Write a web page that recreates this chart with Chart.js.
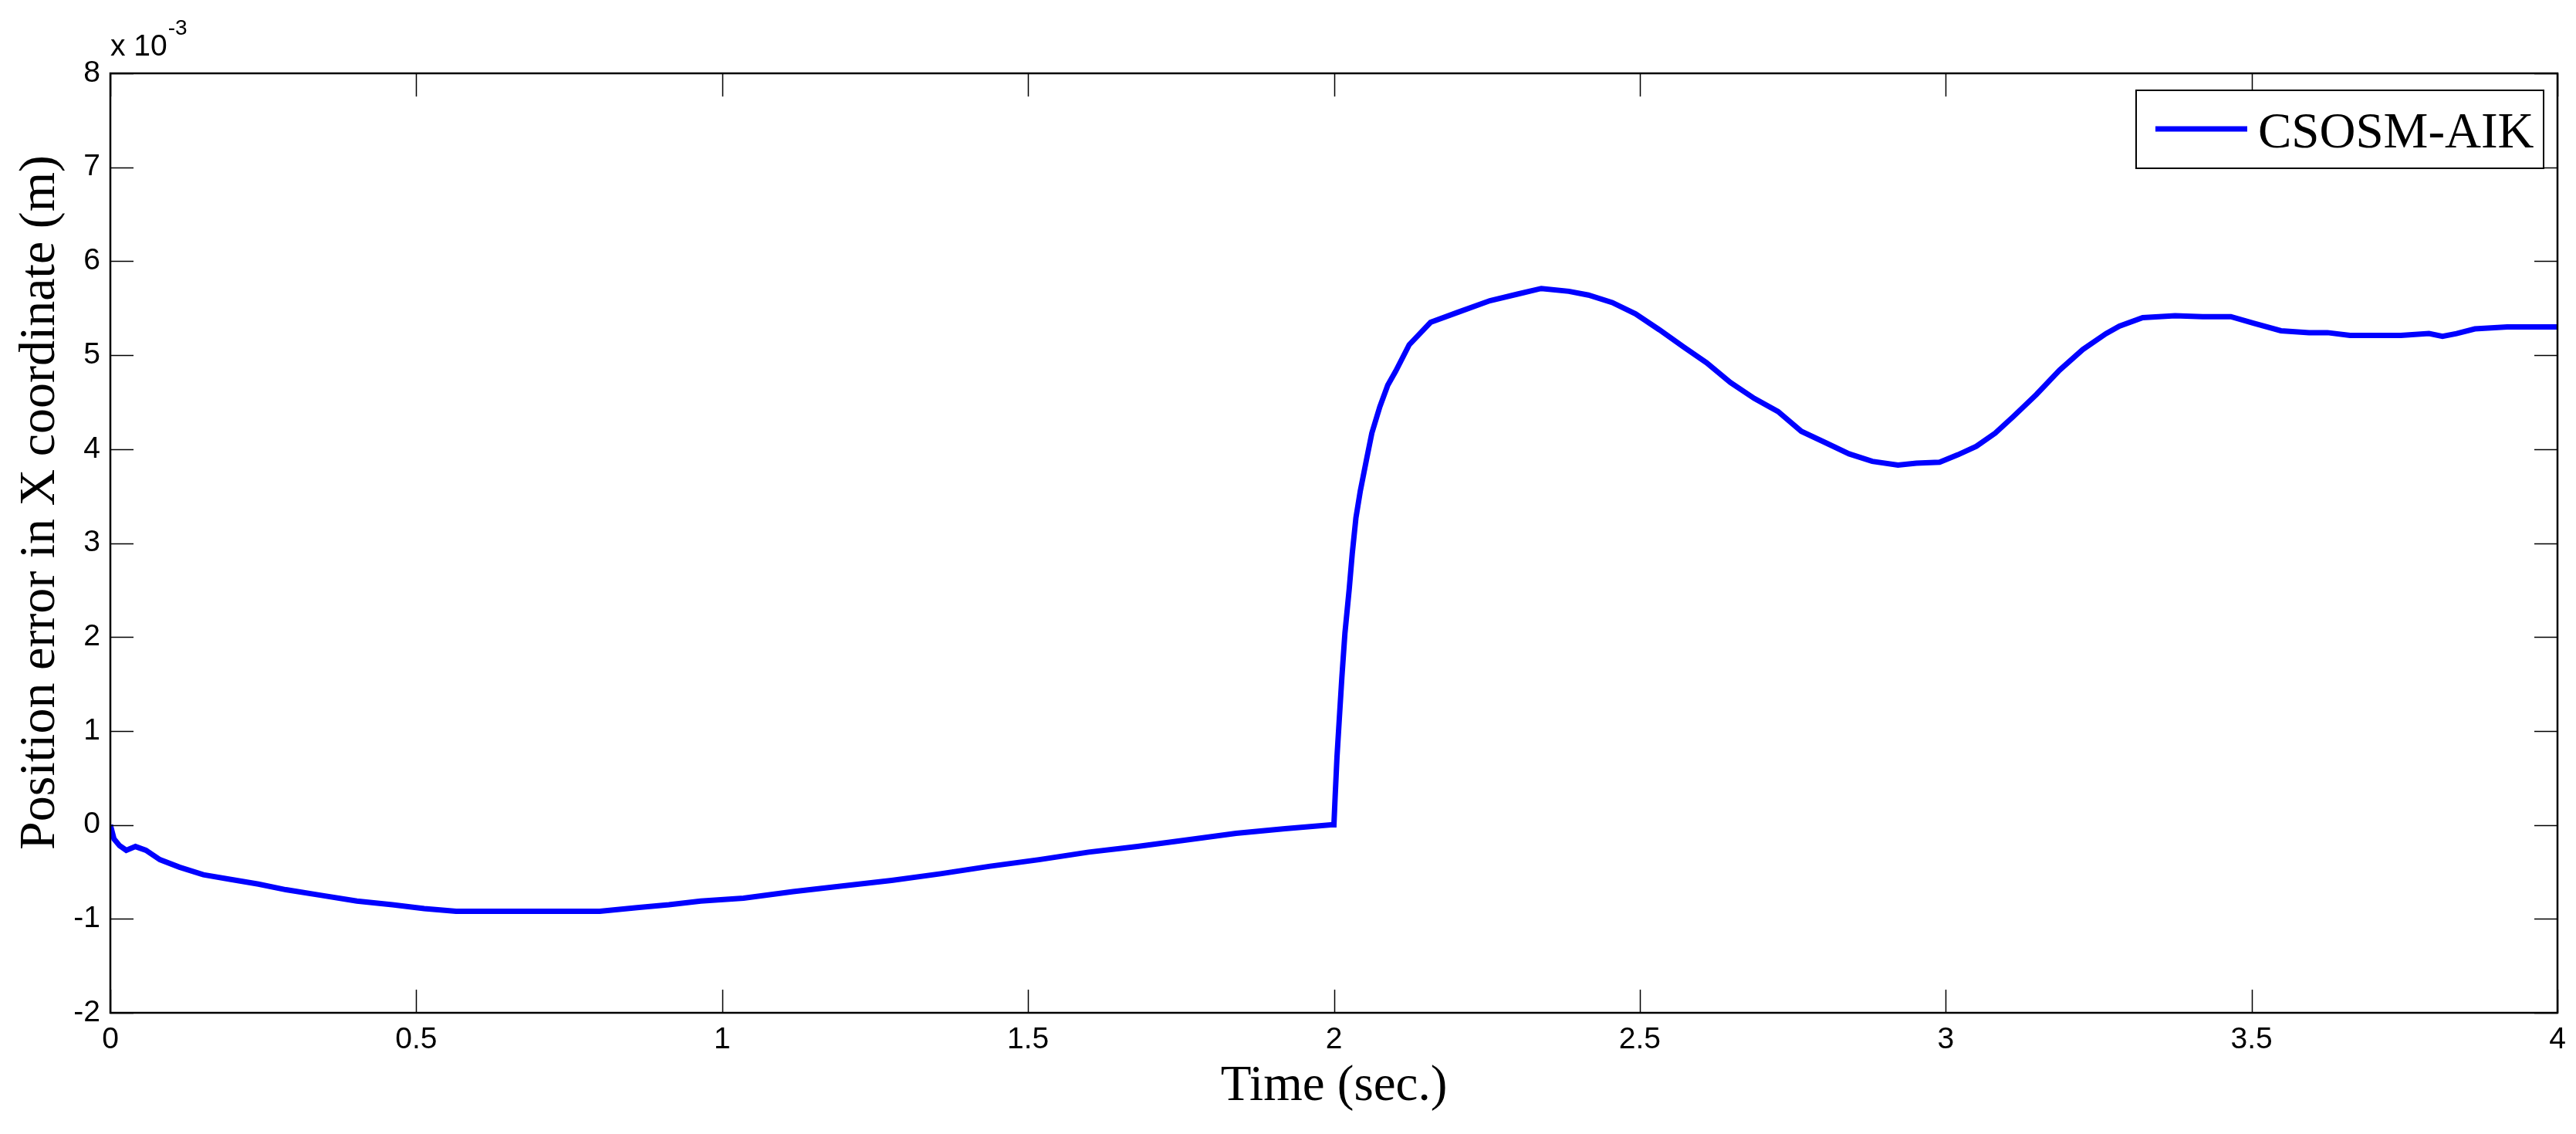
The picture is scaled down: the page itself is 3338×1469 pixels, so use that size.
<!DOCTYPE html>
<html>
<head>
<meta charset="utf-8">
<title>Position error in X coordinate</title>
<script src="https://cdn.jsdelivr.net/npm/chart.js@4.4.1/dist/chart.umd.min.js"></script>
<style>
html,body{margin:0;padding:0;background:#fff;overflow:hidden}
#wrap{width:3338px;height:1469px;position:relative}
</style>
</head>
<body>
<div id="wrap"><canvas id="chart"></canvas></div>
<script>
// time (sec.)
const timeSec = [0,0.006,0.015,0.026,0.041,0.058,0.081,0.113,0.152,0.197,0.242,0.287,0.345,0.403,0.461,0.513,0.565,0.80,0.861,0.913,0.965,
  1.035,1.116,1.196,1.277,1.357,1.438,1.518,1.599,1.679,1.760,1.840,1.920,1.995,2.000,
  2.002,2.005,2.009,2.013,2.018,2.025,2.030,2.036,2.043,2.053,2.062,2.075,2.088,2.101,2.123,2.158,2.204,2.255,2.300,2.339,
  2.384,2.416,2.455,2.493,2.532,2.571,2.609,2.648,2.687,2.726,2.764,2.803,2.842,2.880,2.922,2.952,2.990,
  3.020,3.050,3.081,3.111,3.148,3.186,3.224,3.262,3.284,3.322,3.375,3.420,3.466,3.503,3.548,3.594,3.624,3.661,3.744,3.790,3.812,3.835,3.865,3.918,4.0];
// position error in X (x 10^-3 m)
const errorX = [0,-0.15,-0.22,-0.27,-0.23,-0.27,-0.37,-0.45,-0.53,-0.58,-0.63,-0.69,-0.75,-0.81,-0.85,-0.89,-0.92,-0.92,-0.88,-0.85,-0.81,
  -0.78,-0.71,-0.65,-0.59,-0.52,-0.44,-0.37,-0.29,-0.23,-0.16,-0.09,-0.04,0.0,0.0,
  0.30,0.72,1.15,1.57,2.04,2.51,2.89,3.27,3.55,3.88,4.17,4.45,4.68,4.83,5.11,5.35,5.46,5.58,5.65,5.71,
  5.68,5.64,5.56,5.44,5.27,5.09,4.92,4.71,4.54,4.40,4.19,4.07,3.95,3.87,3.83,3.85,3.86,
  3.94,4.03,4.17,4.35,4.58,4.84,5.06,5.23,5.31,5.40,5.42,5.41,5.41,5.34,5.26,5.24,5.24,5.21,5.21,5.23,5.20,5.23,5.28,5.30,5.30];

const xTicks = [0,0.5,1,1.5,2,2.5,3,3.5,4];
const yTicks = [-2,-1,0,1,2,3,4,5,6,7,8];
const seriesName = 'CSOSM-AIK';
const xTitle = 'Time (sec.)';
const yTitle = 'Position error in X coordinate (m)';
const yExponent = '-3';

const sansFont = '"Liberation Sans", Arial, sans-serif';
const serifFont = '"Liberation Serif", "Times New Roman", serif';

// matlab style box, inward ticks, exponent, y label and legend
const matlabFrame = {
  id: 'matlabFrame',
  afterDraw(chart){
    const ctx = chart.ctx;
    const a = chart.chartArea;
    const xs = chart.scales.x, ys = chart.scales.y;
    const tl = 30;
    ctx.save();
    ctx.strokeStyle = '#000';
    ctx.lineWidth = 1.5;
    ctx.beginPath();
    xTicks.forEach(v=>{
      const px = Math.round(xs.getPixelForValue(v))+0.5;
      ctx.moveTo(px,a.bottom); ctx.lineTo(px,a.bottom-tl);
      ctx.moveTo(px,a.top); ctx.lineTo(px,a.top+tl);
    });
    yTicks.forEach(v=>{
      const py = Math.round(ys.getPixelForValue(v))+0.5;
      ctx.moveTo(a.left,py); ctx.lineTo(a.left+tl,py);
      ctx.moveTo(a.right,py); ctx.lineTo(a.right-tl,py);
    });
    ctx.stroke();
    ctx.lineWidth = 2.5;
    ctx.strokeRect(a.left,a.top,a.right-a.left,a.bottom-a.top);

    // exponent label
    ctx.fillStyle = '#000';
    ctx.textBaseline = 'alphabetic';
    ctx.textAlign = 'left';
    ctx.font = '39px '+sansFont;
    ctx.fillText('x 10', a.left, a.top-23);
    const w = ctx.measureText('x 10').width;
    ctx.font = '28px '+sansFont;
    ctx.fillText(yExponent, a.left+w+1, a.top-50);

    // y axis label
    ctx.save();
    ctx.translate(70, 651);
    ctx.rotate(-Math.PI/2);
    ctx.textAlign = 'center';
    ctx.font = '66px '+serifFont;
    ctx.fillText(yTitle, 0, 0);
    ctx.restore();

    // legend
    const bx = a.right-546, by = a.top+22, bw = 528, bh = 101;
    ctx.fillStyle = '#fff';
    ctx.fillRect(bx,by,bw,bh);
    ctx.lineWidth = 2;
    ctx.strokeStyle = '#000';
    ctx.strokeRect(bx,by,bw,bh);
    const ds = chart.data.datasets[0];
    ctx.strokeStyle = ds.borderColor;
    ctx.lineWidth = ds.borderWidth;
    ctx.beginPath();
    ctx.moveTo(bx+25,by+50); ctx.lineTo(bx+144,by+50);
    ctx.stroke();
    ctx.fillStyle = '#000';
    ctx.textAlign = 'left';
    ctx.font = '65px '+serifFont;
    ctx.fillText(ds.label, bx+158, by+74);
    ctx.restore();
  }
};

new Chart(document.getElementById('chart'),{
  type:'line',
  data:{
    datasets:[{
      label:seriesName,
      data:timeSec.map((t,i)=>({x:t,y:errorX[i]})),
      borderColor:'#0000ff',
      borderWidth:7,
      pointRadius:0,
      tension:0,
      fill:false
    }]
  },
  options:{
    responsive:true,
    maintainAspectRatio:false,
    devicePixelRatio:1,
    animation:false,
    layout:{padding:{left:0,right:24,top:95,bottom:0}},
    plugins:{legend:{display:false},tooltip:{enabled:false}},
    scales:{
      x:{
        type:'linear',min:0,max:4,
        afterBuildTicks:s=>{s.ticks=xTicks.map(v=>({value:v}))},
        afterFit:s=>{s.height=157},
        grid:{display:false,drawTicks:false},
        border:{display:false},
        ticks:{color:'#000',padding:12,font:{family:sansFont,size:39},maxRotation:0,autoSkip:false,callback:v=>String(v)},
        title:{display:true,text:xTitle,color:'#000',font:{family:serifFont,size:65},padding:{top:0,bottom:22}}
      },
      y:{
        type:'linear',min:-2,max:8,
        afterBuildTicks:s=>{s.ticks=yTicks.map(v=>({value:v}))},
        afterFit:s=>{s.width=143},
        grid:{display:false,drawTicks:false},
        border:{display:false},
        ticks:{color:'#000',padding:13,font:{family:sansFont,size:39},autoSkip:false,callback:v=>String(v)},
        title:{display:false}
      }
    }
  },
  plugins:[matlabFrame]
});
</script>
</body>
</html>
